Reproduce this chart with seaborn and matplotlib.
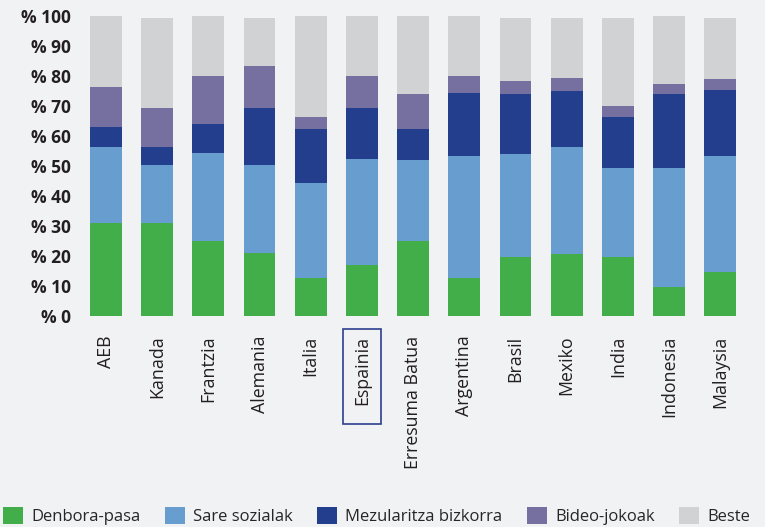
import pandas as pd
import matplotlib
matplotlib.use('Agg')
import matplotlib.pyplot as plt
from matplotlib.patches import Patch, Rectangle
import seaborn as sns

# Countries and the share of each use (in %)
countries = ['AEB', 'Kanada', 'Frantzia', 'Alemania', 'Italia', 'Espainia', 'Erresuma Batua',
             'Argentina', 'Brasil', 'Mexiko', 'India', 'Indonesia', 'Malaysia']
denbora_pasa = [31, 31, 25, 21, 12.5, 17, 25, 12.5, 19.5, 20.5, 19.5, 9.5, 14.5]
sare_sozialak = [25.5, 19.5, 29.5, 29.5, 32, 35.5, 27, 41, 34.5, 36, 30, 40, 39]
mezularitza = [6.5, 6, 9.5, 19, 18, 17, 10.5, 21, 20, 18.5, 17, 24.5, 22]
bideo_jokoak = [13.5, 13, 16, 14, 4, 10.5, 11.5, 5.5, 4.5, 4.5, 3.5, 3.5, 3.5]
beste = [23.5, 30, 20, 16, 33.5, 20, 26, 20, 21, 20, 29.5, 22.5, 20.5]

series_names = ['Denbora-pasa', 'Sare sozialak', 'Mezularitza bizkorra', 'Bideo-jokoak', 'Beste']
colors = ['#41ae4a', '#679ecf', '#233e8c', '#75709f', '#d1d2d4']
highlight = 'Espainia'

bg = '#f1f2f4'
sns.set_theme(style='white')
plt.rcParams['font.family'] = ['Open Sans', 'DejaVu Sans']

df = pd.DataFrame({'country': countries, 'Denbora-pasa': denbora_pasa,
                   'Sare sozialak': sare_sozialak, 'Mezularitza bizkorra': mezularitza,
                   'Bideo-jokoak': bideo_jokoak, 'Beste': beste})
# cumulative tops, draw from the top layer down so lower layers cover them
cum = df[series_names].cumsum(axis=1)
cum['country'] = df['country']

fig = plt.figure(figsize=(7.65, 5.27), dpi=100, facecolor=bg)
ax = fig.add_axes([0.105, 0.4004, 0.870, 0.5692])
ax.set_facecolor(bg)

for name, col in reversed(list(zip(series_names, colors))):
    sns.barplot(data=cum, x='country', y=name, color=col, width=0.62,
                saturation=1, ax=ax, linewidth=0, order=countries)

ax.set_ylim(0, 100)
ax.set_xlim(-0.5, len(countries) - 0.5)
ax.set_yticks(range(0, 101, 10))
ax.set_yticklabels(['% ' + str(v) for v in range(0, 101, 10)],
                   fontsize=12.5, fontweight='bold', color='#231f20')
ax.set_xticks(range(len(countries)))
ax.set_xticklabels(countries, rotation=90, fontsize=12.8, color='#231f20', va='top')
ax.tick_params(axis='y', length=0, pad=7)
ax.tick_params(axis='x', length=0, pad=14)
ax.set_xlabel('')
ax.set_ylabel('')
sns.despine(ax=ax, left=True, bottom=True)

# frame around the highlighted country label
i = countries.index(highlight)
x0 = (0.105 + 0.870 * (i + 0.5) / len(countries)) - 19 / 765
fig.add_artist(Rectangle((x0, 1 - 424 / 527), 38 / 765, 95 / 527, transform=fig.transFigure,
                         fill=False, edgecolor='#2b3f8e', lw=1.2))

handles = [Patch(facecolor=c, edgecolor='none') for c in colors]
fig.legend(handles, series_names, loc='lower left', bbox_to_anchor=(0.004, 0.004),
           ncol=5, frameon=False, fontsize=12, handlelength=1.2, handleheight=1.2,
           handletextpad=0.5, columnspacing=1.45, borderaxespad=0, borderpad=0)

fig.savefig('out.png', dpi=100, facecolor=bg)
